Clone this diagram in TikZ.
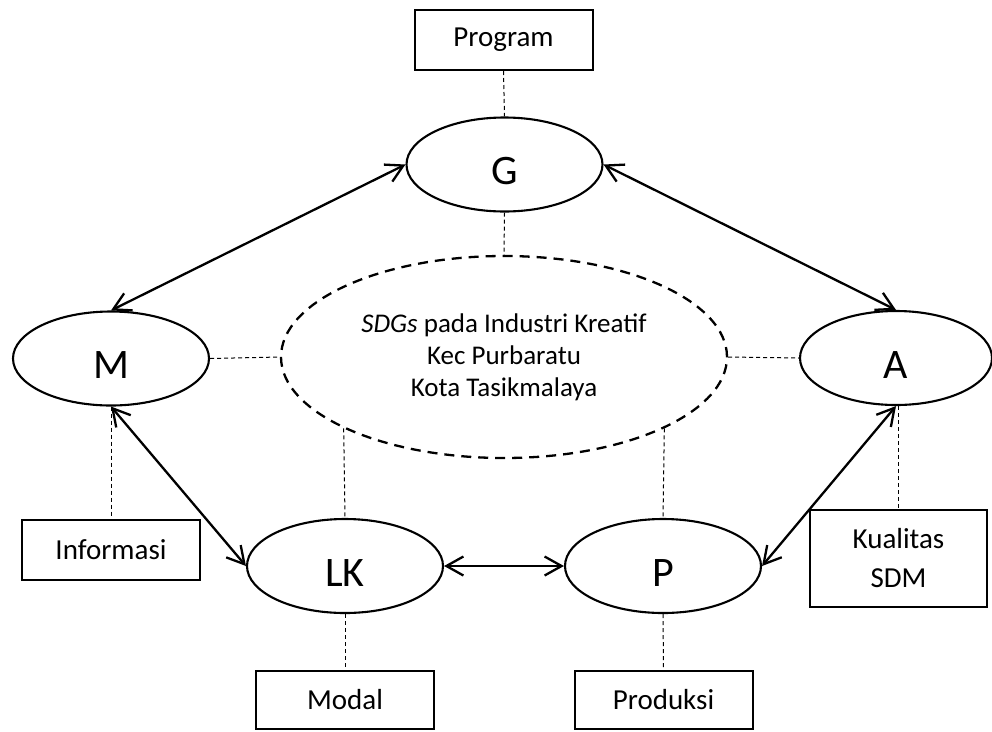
\documentclass[tikz,border=0pt]{standalone}
\usepackage{fontspec}
\setmainfont{Carlito}
\usetikzlibrary{arrows.meta,shapes.geometric}
\begin{document}
\begin{tikzpicture}[x=1pt,y=-1pt,
  >={Straight Barb[length=17pt,width=19pt]},
  ell/.style={draw, line width=2.1pt, ellipse, minimum width=196pt, minimum height=94pt, inner sep=0pt,
    font=\fontsize{42}{42}\selectfont, text height=40pt, text depth=0pt},
  box/.style={draw, line width=2pt, rectangle, minimum width=178pt, minimum height=60pt, inner sep=0pt,
    font=\fontsize{29}{35}\selectfont},
  link/.style={line width=1pt, dash pattern=on 4pt off 3pt},
  rel/.style={line width=2.3pt, <->},
  bigell/.style={draw, line width=2.3pt, dash pattern=on 10pt off 7pt, ellipse, minimum width=446pt,
    minimum height=202pt, inner sep=0pt, align=center, font=\fontsize{27}{32}\selectfont}]
\useasboundingbox (0,0) rectangle (992,731);

\node[box] (prog) at (503.5,40) {Program};
\node[ell] (G) at (504.5,164.5) {G};
\node[ell] (M) at (111,358.5) {M};
\node[ell, minimum width=192pt] (A) at (896,358) {A};
\node[bigell] (sdg) at (504,357) {\textit{SDGs} pada Industri Kreatif\\Kec Purbaratu\\Kota Tasikmalaya};
\node[box] (info) at (111,549.5) {Informasi};
\node[ell] (LK) at (345,566) {LK};
\node[ell] (P) at (663,566) {P};
\node[box, minimum width=177pt, minimum height=97pt, align=center, font=\fontsize{29}{39}\selectfont] (kual) at (898.5,558.5) {Kualitas\\SDM};
\node[box, minimum height=58pt] (modal) at (345,700) {Modal};
\node[box, minimum height=58pt] (prod) at (663.5,700) {Produksi};

\draw[link] (prog.south) -- (G.north);
\draw[link] (G.south) -- (sdg.north);
\draw[link] (M.east) -- (sdg.west);
\draw[link] (sdg.east) -- (A.west);
\draw[link] (sdg.204) -- (LK.north);
\draw[link] (sdg.336) -- (P.north);
\draw[link] (M.south) -- (info.north);
\draw[link] (A.south -| kual.north) -- (kual.north);
\draw[link] (LK.south) -- (modal.north);
\draw[link] (P.south) -- (prod.north);

\draw[rel] (G.west) -- (M.north);
\draw[rel] (G.east) -- (A.north);
\draw[rel] (M.south) -- (LK.west);
\draw[rel] (LK.east) -- (P.west);
\draw[rel] (A.south) -- (P.east);
\end{tikzpicture}
\end{document}
